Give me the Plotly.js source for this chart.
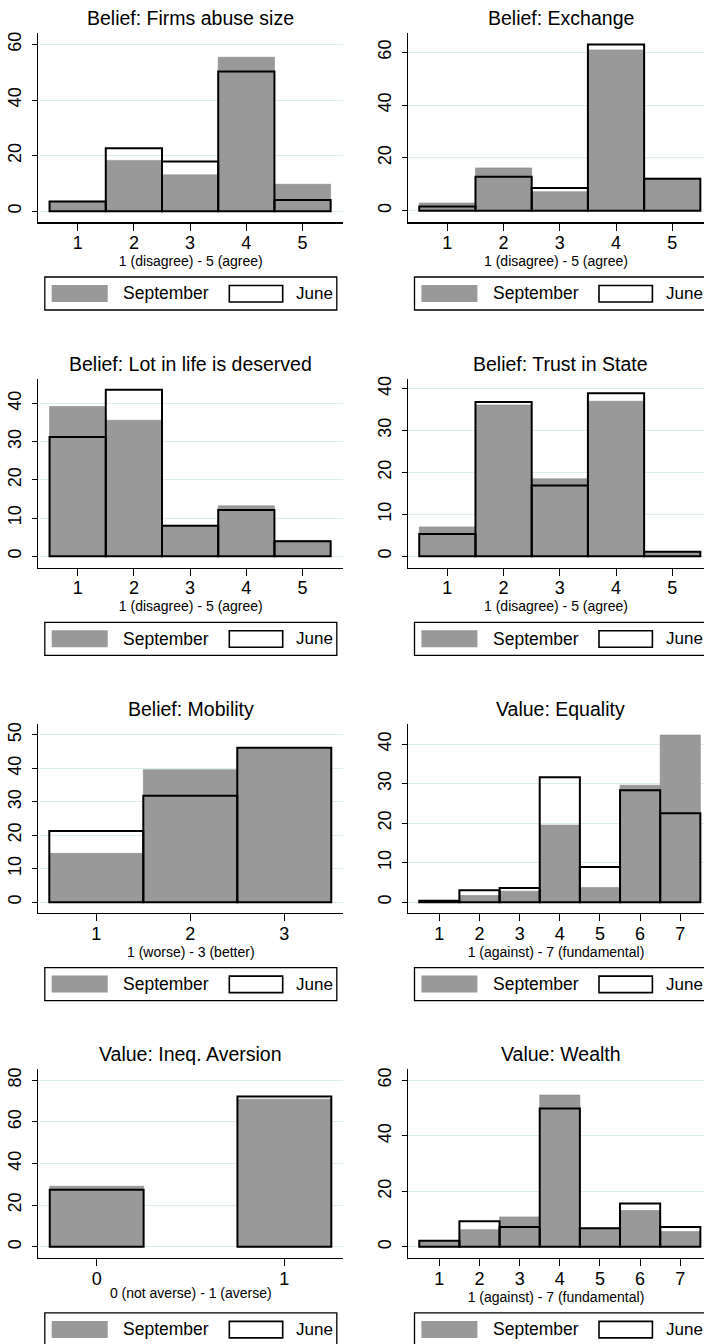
<!DOCTYPE html>
<html><head><meta charset="utf-8">
<script src="https://cdn.plot.ly/plotly-3.0.1.min.js"></script>
<style>body{margin:0;padding:0;background:#fff}#chart{width:704px;height:1344px}</style>
</head><body><div id="chart"></div>
<script>
// ---- DATA ----
const panelTitles = ["Belief: Firms abuse size", "Belief: Exchange", "Belief: Lot in life is deserved", "Belief: Trust in State",
                     "Belief: Mobility", "Value: Equality", "Value: Ineq. Aversion", "Value: Wealth"];
const axisTitles = ["1 (disagree) - 5 (agree)", "1 (disagree) - 5 (agree)", "1 (disagree) - 5 (agree)", "1 (disagree) - 5 (agree)",
                    "1 (worse) - 3 (better)", "1 (against) - 7 (fundamental)", "0 (not averse) - 1 (averse)", "1 (against) - 7 (fundamental)"];
const seriesNames = ["September", "June"];

const cats5 = [1, 2, 3, 4, 5];
const cats3 = [1, 2, 3];
const cats7 = [1, 2, 3, 4, 5, 6, 7];
const cats2 = [0, 1];

const septFirms    = [3.6, 18.3, 13.1, 55.4, 9.7];
const juneFirms    = [3.5, 22.7, 17.9, 50.3, 4.1];
const septExchange = [2.9, 16.2, 7.2, 60.9, 12.3];
const juneExchange = [1.6, 12.9, 8.6, 63.0, 12.1];
const septLot      = [39.2, 35.6, 8.1, 13.2, 4.1];
const juneLot      = [31.2, 43.6, 8.0, 12.1, 3.9];
const septTrust    = [7.0, 36.1, 18.5, 37.0, 1.1];
const juneTrust    = [5.3, 36.8, 16.9, 38.9, 1.1];
const septMobility = [14.6, 39.6, 46.2];
const juneMobility = [21.3, 31.8, 46.2];
const septEquality = [0.2, 1.7, 2.8, 19.5, 3.7, 29.6, 42.3];
const juneEquality = [0.4, 3.0, 3.6, 31.6, 8.9, 28.3, 22.5];
const septIneq     = [29.1, 70.9];
const juneIneq     = [27.4, 72.2];
const septWealth   = [2.2, 6.2, 10.8, 54.7, 6.7, 13.1, 5.5];
const juneWealth   = [2.2, 9.2, 7.2, 49.8, 6.7, 15.6, 7.2];

const panelCats = [cats5, cats5, cats5, cats5, cats3, cats7, cats2, cats7];
const panelSept = [septFirms, septExchange, septLot, septTrust, septMobility, septEquality, septIneq, septWealth];
const panelJune = [juneFirms, juneExchange, juneLot, juneTrust, juneMobility, juneEquality, juneIneq, juneWealth];
const yTickVals = [[0,20,40,60],[0,20,40,60],[0,10,20,30,40],[0,10,20,30,40],[0,10,20,30,40,50],[0,10,20,30,40],[0,20,40,60,80],[0,20,40,60]];

// ---- LAYOUT CONFIG ----
const W = 704, H = 1344;
const ROWSTEP = 345.3, COLSTEP = 369.7;
const AX_L = 38.3, AX_R = 343.3, AX_T = 33.3, AX_B = 222.3;
const yRanges = [[-3.96,64.0],[-4.4,67.2],[-2.98,46.5],[-2.71,42.4],[-3.2,53.3],[-2.7,45.1],[-5.44,85.3],[-4.08,64.0]];
const xRangeByN = {5:[0.30,5.725], 3:[0.383,3.628], 7:[0.22,7.815], 2:[-0.311,1.314]};
const barWidthByN = {5:1, 3:1, 7:1, 2:0.5};
const SEPT_COLOR = "#999999", GRID_COLOR = "#dcecec";
const FONT = "Liberation Sans, Arial, sans-serif";

const px = x => x / W;
const py = y => 1 - y / H;

const data = [];
const layout = {
  width: W, height: H, autosize: false,
  margin: {l:0, r:0, t:0, b:0},
  paper_bgcolor: "#fff", plot_bgcolor: "#fff",
  showlegend: false, barmode: "overlay",
  font: {family: FONT, color: "#000"},
  annotations: [], shapes: []
};

for (let i = 0; i < 8; i++) {
  const row = Math.floor(i / 2), col = i % 2;
  const dx = col * COLSTEP, dy = row * ROWSTEP;
  const n = panelCats[i].length;
  const L = AX_L + dx, Rv = AX_R + dx, R = Math.min(Rv, W);
  const xr0 = xRangeByN[n];
  const xr = [xr0[0], xr0[0] + (xr0[1] - xr0[0]) * (R - L) / (Rv - L)];
  const sfx = i === 0 ? "" : String(i + 1);
  const xa = "x" + sfx, ya = "y" + sfx;

  data.push({
    type: "bar", x: panelCats[i], y: panelSept[i], name: seriesNames[0],
    xaxis: xa, yaxis: ya, width: barWidthByN[n],
    marker: {color: SEPT_COLOR, line: {color: "#8c8c8c", width: 0.6}}, hoverinfo: "x+y"
  });
  data.push({
    type: "bar", x: panelCats[i], y: panelJune[i], name: seriesNames[1],
    xaxis: xa, yaxis: ya, width: barWidthByN[n],
    marker: {color: "rgba(0,0,0,0)", line: {color: "#000", width: 2}}, hoverinfo: "x+y"
  });

  layout["xaxis" + sfx] = {
    domain: [px(L), px(R)], anchor: ya, range: xr, autorange: false,
    tickmode: "array", tickvals: panelCats[i], ticktext: panelCats[i].map(String),
    ticks: "outside", ticklen: 7, tickwidth: 1, tickcolor: "#000",
    showline: true, linecolor: "#000", linewidth: 1.2, showgrid: false, zeroline: false,
    tickfont: {size: 18, family: FONT, color: "#000"}, ticklabelstandoff: -3,
    title: {text: axisTitles[i], font: {size: 14, family: FONT, color: "#000"}, standoff: 0},
    automargin: false, fixedrange: true
  };
  layout["yaxis" + sfx] = {
    domain: [py(AX_B + dy), py(AX_T + dy)], anchor: xa, range: yRanges[i], autorange: false,
    tickmode: "array", tickvals: yTickVals[i], ticktext: yTickVals[i].map(String),
    ticks: "outside", ticklen: 5, tickwidth: 1, tickcolor: "#000", tickangle: -90,
    showline: true, linecolor: "#000", linewidth: 1.2,
    showgrid: true, gridcolor: GRID_COLOR, gridwidth: 1, zeroline: false,
    tickfont: {size: 18, family: FONT, color: "#000"}, ticklabelstandoff: 4,
    automargin: false, fixedrange: true
  };

  // panel title
  layout.annotations.push({
    text: panelTitles[i], xref: "paper", yref: "paper",
    x: px((L + Rv) / 2), y: py(18.5 + dy), xanchor: "center", yanchor: "middle",
    showarrow: false, font: {size: 19.5, family: FONT, color: "#000"}
  });

  // legend box (Stata-style, below each panel)
  const lb = L + 6.5;
  layout.shapes.push({type: "rect", xref: "paper", yref: "paper",
    x0: px(lb), x1: px(lb + 292), y0: py(310 + dy), y1: py(277 + dy),
    line: {color: "#000", width: 1.3}, fillcolor: "rgba(0,0,0,0)"});
  layout.shapes.push({type: "rect", xref: "paper", yref: "paper",
    x0: px(L + 13.4), x1: px(L + 69.4), y0: py(302 + dy), y1: py(285 + dy),
    line: {width: 0}, fillcolor: SEPT_COLOR});
  layout.shapes.push({type: "rect", xref: "paper", yref: "paper",
    x0: px(L + 191), x1: px(L + 244.4), y0: py(302 + dy), y1: py(285.5 + dy),
    line: {color: "#000", width: 1.6}, fillcolor: "#fff"});
  layout.annotations.push({
    text: seriesNames[0], xref: "paper", yref: "paper",
    x: px(L + 83), y: py(293.5 + dy), xanchor: "left", yanchor: "middle",
    showarrow: false, font: {size: 17.5, family: FONT, color: "#000"}
  });
  layout.annotations.push({
    text: seriesNames[1], xref: "paper", yref: "paper",
    x: px(L + 256), y: py(293.5 + dy), xanchor: "left", yanchor: "middle",
    showarrow: false, font: {size: 17, family: FONT, color: "#000"}
  });
}

Plotly.newPlot("chart", data, layout, {displayModeBar: false, staticPlot: true});
</script>
</body></html>
